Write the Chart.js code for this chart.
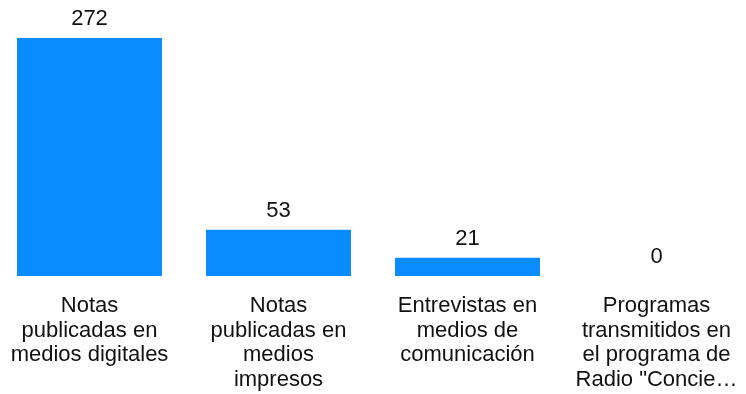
<!DOCTYPE html>
<html>
<head>
<meta charset="utf-8">
<script src="https://cdn.jsdelivr.net/npm/chart.js@4/dist/chart.umd.min.js"></script>
<style>
  html, body { margin: 0; padding: 0; background: #fff; overflow: hidden; }
  #wrap { position: absolute; left: -5px; top: 0; width: 756px; height: 394px; }
</style>
</head>
<body>
<div id="wrap"><canvas id="barChart"></canvas></div>
<script>
// categorias (lineas de cada etiqueta)
var categorias = [
    ['Notas', 'publicadas en', 'medios digitales'],
    ['Notas', 'publicadas en', 'medios', 'impresos'],
    ['Entrevistas en', 'medios de', 'comunicación'],
    ['Programas', 'transmitidos en', 'el programa de', 'Radio "Concie…']
];
var valores = [272, 53, 21, 0];

var fuente = '"Liberation Sans", Arial, sans-serif';

// etiquetas de valor encima de cada barra
var etiquetasValor = {
    id: 'etiquetasValor',
    afterDatasetsDraw: function (chart) {
        var ctx = chart.ctx;
        var meta = chart.getDatasetMeta(0);
        ctx.save();
        ctx.font = '22px ' + fuente;
        ctx.fillStyle = '#111';
        ctx.textAlign = 'center';
        ctx.textBaseline = 'middle';
        meta.data.forEach(function (bar, i) {
            ctx.fillText(String(valores[i]), bar.x, bar.y - 19);
        });
        ctx.restore();
    }
};

var chartdata = {
    labels: categorias,
    datasets: [
        {
            data: valores,
            backgroundColor: '#0a8cff',
            borderWidth: 0,
            barPercentage: 0.767,
            categoryPercentage: 1
        }
    ]
};

var barGraph = new Chart(document.getElementById('barChart'), {
    type: 'bar',
    data: chartdata,
    plugins: [etiquetasValor],
    options: {
        responsive: true,
        maintainAspectRatio: false,
        animation: false,
        layout: { padding: { top: 38, left: 0, right: 0, bottom: 0 } },
        plugins: {
            legend: { display: false },
            tooltip: { enabled: false }
        },
        scales: {
            x: {
                grid: { display: false, drawTicks: false },
                border: { display: false },
                ticks: {
                    autoSkip: false,
                    maxRotation: 0,
                    minRotation: 0,
                    padding: 18,
                    color: '#111',
                    font: { family: fuente, size: 22, lineHeight: 1.11 }
                },
                afterFit: function (scale) {
                    scale.height = 118;
                    scale.paddingLeft = 0;
                    scale.paddingRight = 0;
                }
            },
            y: {
                display: false,
                min: 0,
                max: 272
            }
        }
    }
});
</script>
</body>
</html>
